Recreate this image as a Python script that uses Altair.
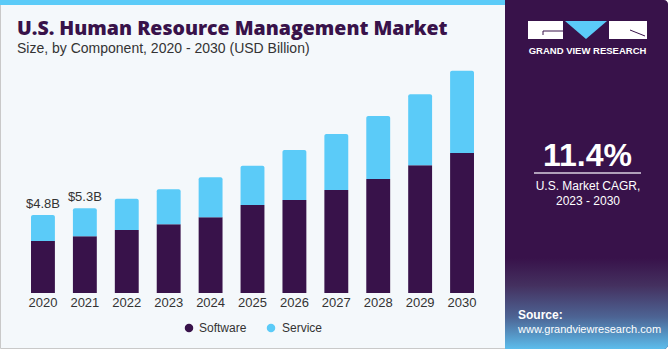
import altair as alt
import pandas as pd

# ---- data ----
years = ["2020", "2021", "2022", "2023", "2024", "2025", "2026", "2027", "2028", "2029", "2030"]
software = [3.23, 3.52, 3.91, 4.27, 4.70, 5.47, 5.78, 6.40, 7.08, 7.93, 8.70]
service = [1.61, 1.74, 1.95, 2.17, 2.49, 2.44, 3.10, 3.48, 3.91, 4.41, 5.11]
value_labels = ["$4.8B", "$5.3B", "", "", "", "", "", "", "", "", ""]
components = ["Software", "Service"]

title_text = "U.S. Human Resource Management Market"
subtitle_text = "Size, by Component, 2020 - 2030 (USD Billion)"
cagr_value = "11.4%"
cagr_lines = ["U.S. Market CAGR,", "2023 - 2030"]
brand = "GRAND VIEW RESEARCH"
source_label = "Source:"
source_url = "www.grandviewresearch.com"

# ---- styles ----
DARK = "#38124a"
BLUE = "#5bcbf8"
BG = "#f4f8fb"
TXT = "#333333"
FONT = "Liberation Sans"

df = pd.DataFrame({"year": years, "software": software, "service": service, "label": value_labels})
df["total"] = df["software"] + df["service"]

xscale = alt.Scale(domain=years, range=[22, 483], paddingInner=0.43, paddingOuter=0.215)
yscale = alt.Scale(domain=[0, 14], range=[293, 67.6], nice=False, zero=True)
X = alt.X("year:O", scale=xscale, axis=None)

one = alt.Data(values=[{"k": 1}])


def rect(x, x2, y, y2, **kw):
    return alt.Chart(one).mark_rect(**kw).encode(
        x=alt.value(x), x2=alt.value(x2), y=alt.value(y), y2=alt.value(y2))


def text(t, x, y, **kw):
    return alt.Chart(one).mark_text(text=t, **kw).encode(x=alt.value(x), y=alt.value(y))


def rule(x, x2, y, y2, **kw):
    return alt.Chart(one).mark_rule(**kw).encode(
        x=alt.value(x), x2=alt.value(x2), y=alt.value(y), y2=alt.value(y2))


layers = []
# card backgrounds
layers.append(rect(0.5, 506, 0.5, 348.5, fill=BG, stroke="#c9c9c9", strokeWidth=1))
layers.append(rect(0, 506, 0, 5, fill=BLUE))
layers.append(rect(505, 668, 0, 349, fill=DARK, cornerRadiusTopRight=4, cornerRadiusBottomRight=4))
grad = alt.LinearGradient(
    gradient="linear", x1=0, y1=0, x2=0, y2=1,
    stops=[alt.GradientStop(offset=0, color=DARK),
           alt.GradientStop(offset=0.3, color="#44305f"),
           alt.GradientStop(offset=0.65, color="#4d6494"),
           alt.GradientStop(offset=1, color="#5cbdec")])
layers.append(rect(505, 668, 258, 349, fill=grad, cornerRadiusBottomRight=4))

# logo
layers.append(rect(528, 563, 21, 39, fill="white"))
layers.append(rule(543, 563, 31, 31, color=DARK, strokeWidth=1))
layers.append(rule(543, 543, 31, 35, color=DARK, strokeWidth=1))
layers.append(rect(609, 647, 21, 39, fill="white"))
layers.append(rule(630, 645, 30, 36, color=DARK, strokeWidth=1))
layers.append(alt.Chart(one).mark_point(
    shape="M-1,-0.4286L1,-0.4286L0,0.4286Z", filled=True, color=BLUE, opacity=1, size=1764
).encode(x=alt.value(586), y=alt.value(30)))
layers.append(text(brand, 587.5, 54, font=FONT, fontSize=9.5, fontWeight="bold", color="white",
                   align="center", baseline="alphabetic"))

# CAGR block
layers.append(text(cagr_value, 587.5, 166, font=FONT, fontSize=32, fontWeight="bold", color="white",
                   align="center", baseline="alphabetic"))
layers.append(rule(534, 641, 173, 173, color="#d8d0e0", strokeWidth=1.5))
layers.append(text(cagr_lines[0], 588, 190, font=FONT, fontSize=12, color="white",
                   align="center", baseline="alphabetic"))
layers.append(text(cagr_lines[1], 588, 204.5, font=FONT, fontSize=12, color="white",
                   align="center", baseline="alphabetic"))

# source
layers.append(text(source_label, 518, 319, font=FONT, fontSize=12, fontWeight="bold", color="white",
                   align="left", baseline="alphabetic"))
layers.append(text(source_url, 518, 333, font=FONT, fontSize=11, color="white",
                   align="left", baseline="alphabetic"))

# title
layers.append(text(title_text, 17, 35, font="Open Sans", fontSize=19.5, fontWeight=800, color=DARK,
                   align="left", baseline="alphabetic"))
layers.append(text(subtitle_text, 17, 53, font=FONT, fontSize=14, color=TXT,
                   align="left", baseline="alphabetic"))

# bars
base = alt.Chart(df)
layers.append(base.mark_bar(color=DARK).encode(
    x=X, y=alt.Y("software:Q", scale=yscale, axis=None)))
layers.append(base.mark_bar(color=BLUE, cornerRadiusTopLeft=2, cornerRadiusTopRight=2).encode(
    x=X, y=alt.Y("total:Q", scale=yscale, axis=None), y2="software:Q"))

# value labels
layers.append(base.transform_filter("datum.label != ''").mark_text(
    font=FONT, fontSize=13, color=TXT, baseline="alphabetic", dy=-7).encode(
    x=X, y=alt.Y("total:Q", scale=yscale, axis=None), text="label:N"))

# year labels
layers.append(base.mark_text(font=FONT, fontSize=13, color=TXT, baseline="middle").encode(
    x=X, y=alt.value(302.5), text="year:N"))

# legend
layers.append(alt.Chart(one).mark_circle(color=DARK, size=72, opacity=1).encode(
    x=alt.value(189), y=alt.value(328)))
layers.append(text(components[0], 199, 328, font=FONT, fontSize=12, color=TXT,
                   align="left", baseline="middle"))
layers.append(alt.Chart(one).mark_circle(color=BLUE, size=72, opacity=1).encode(
    x=alt.value(271), y=alt.value(328)))
layers.append(text(components[1], 282, 328, font=FONT, fontSize=12, color=TXT,
                   align="left", baseline="middle"))

chart = alt.layer(*layers).properties(
    width=670, height=350,
    autosize=alt.AutoSizeParams(type="none"),
    padding=0,
    background="white",
).configure_view(stroke=None)

chart.save("out.html", embed_options={"renderer": "svg", "actions": False})
